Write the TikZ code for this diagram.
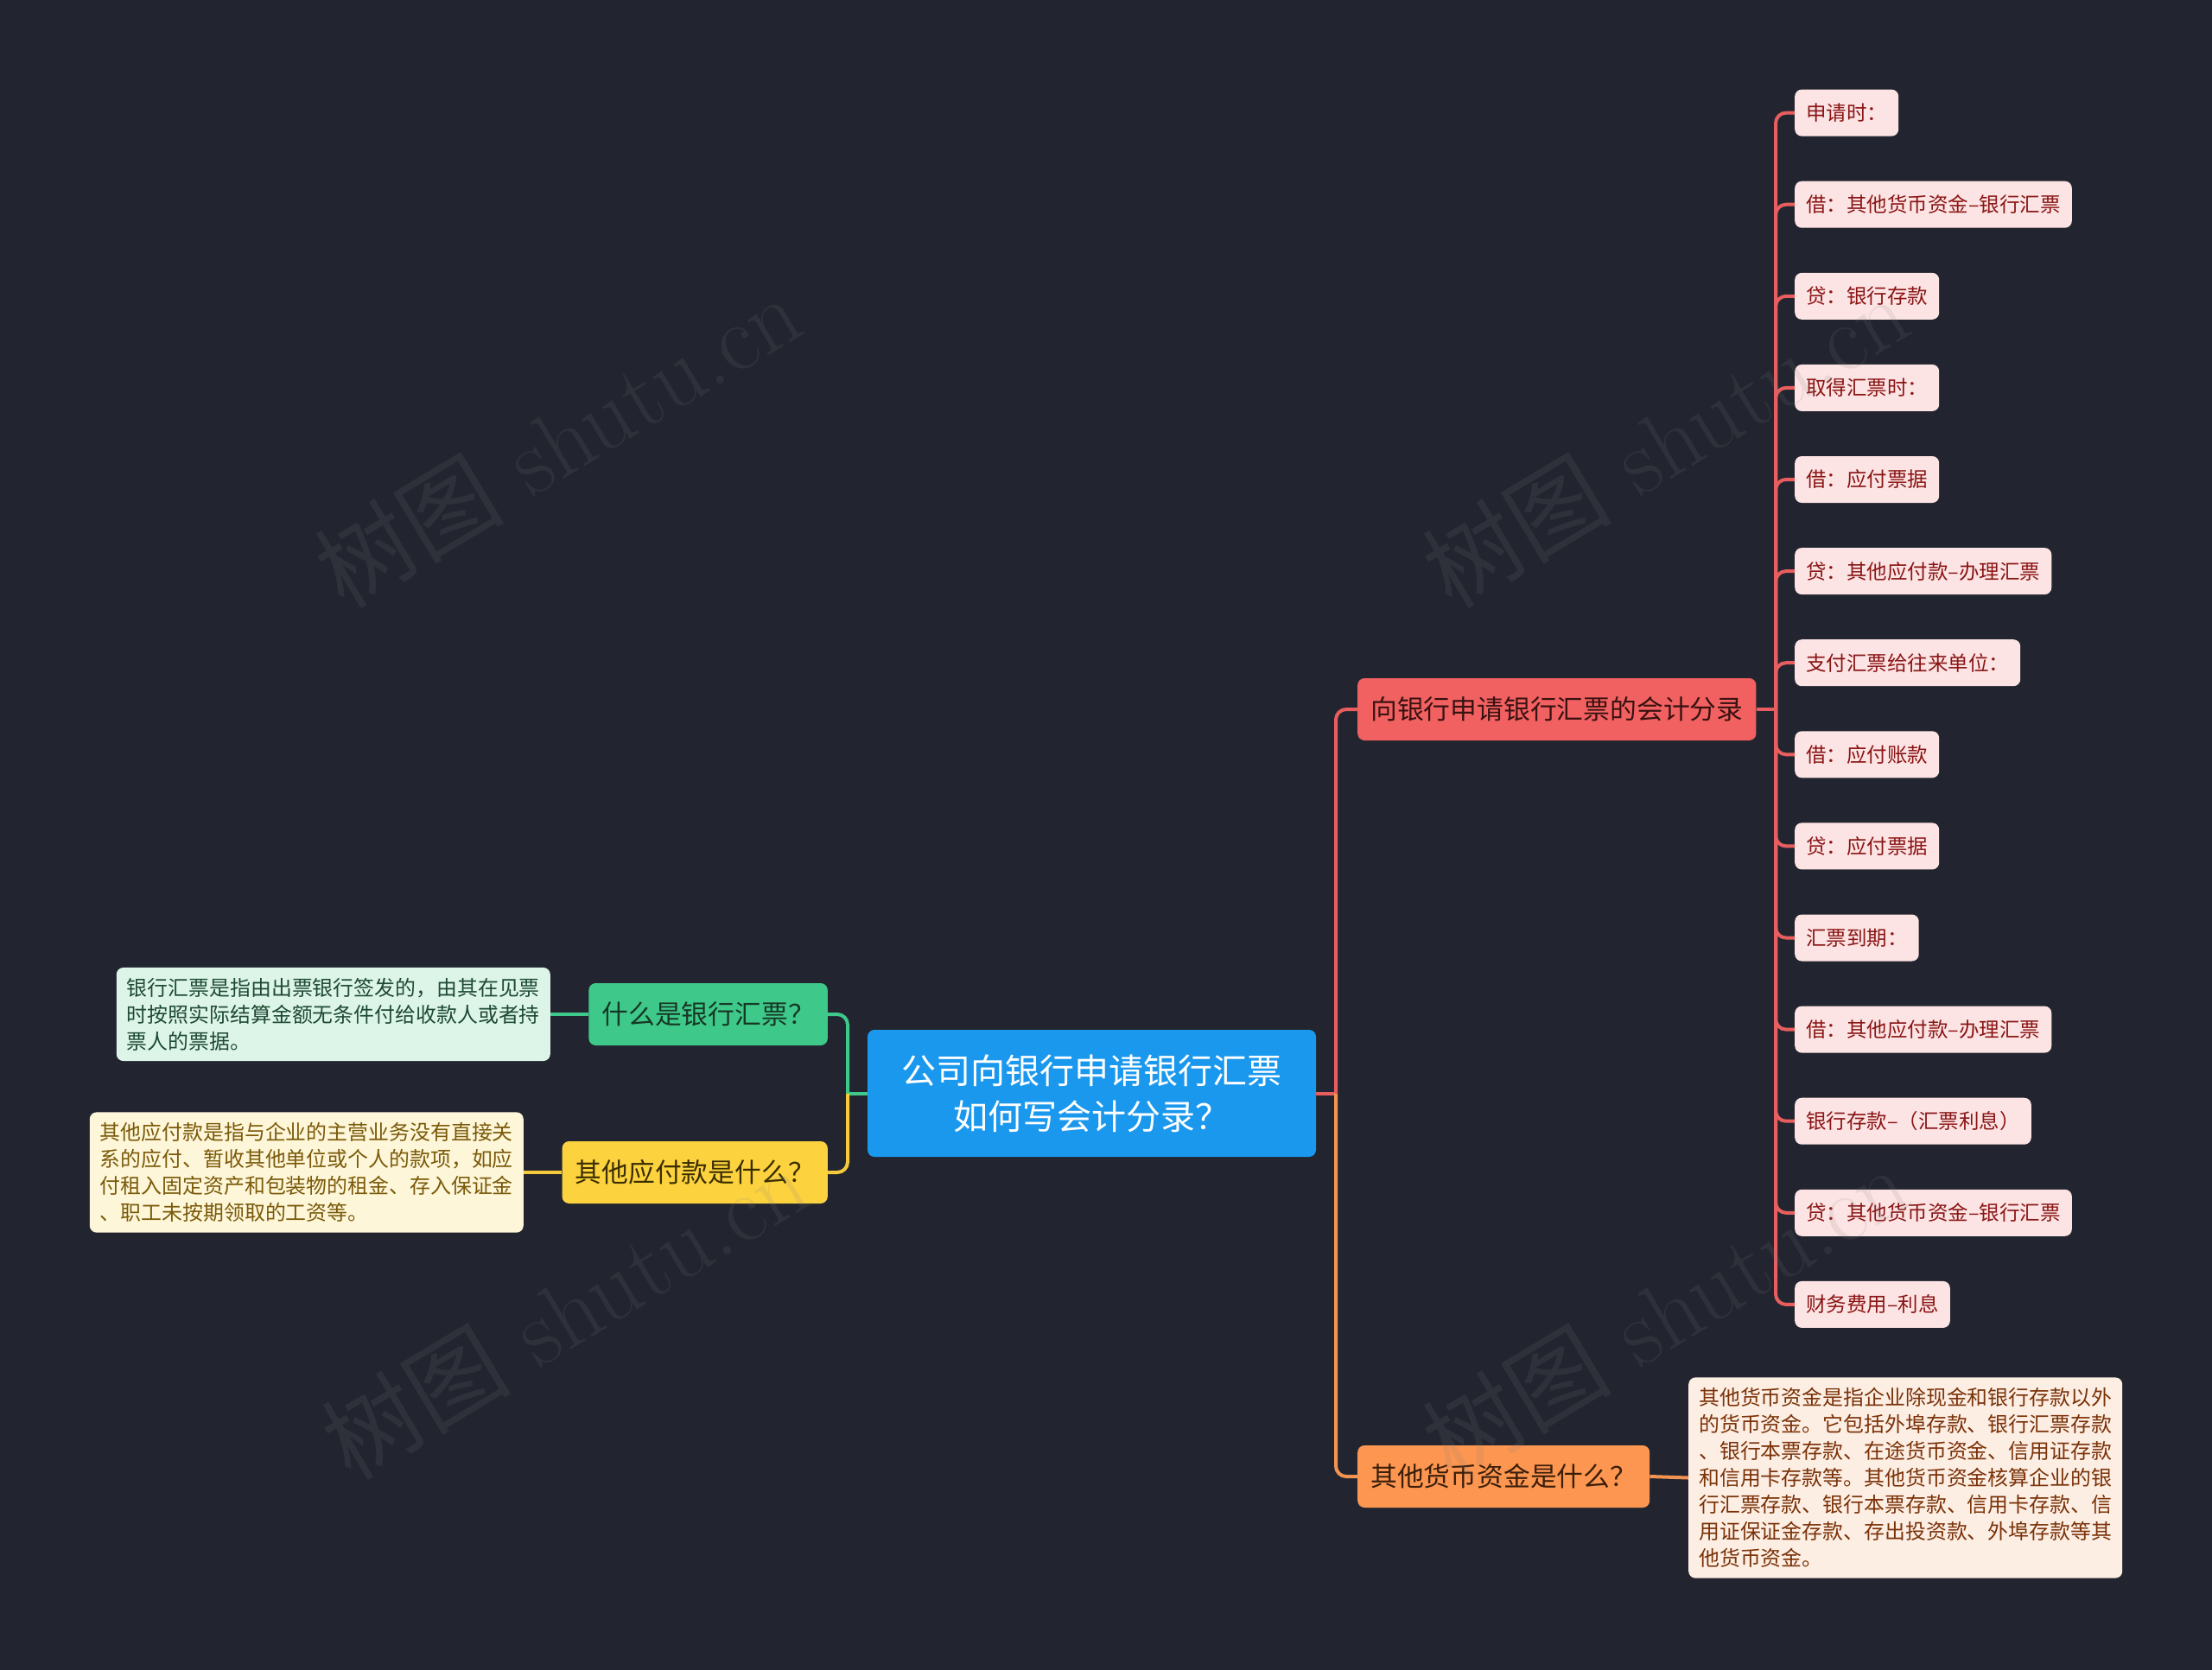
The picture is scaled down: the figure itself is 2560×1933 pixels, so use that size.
\documentclass[tikz,border=0pt]{standalone}
\usepackage{fontspec}
\newfontfamily\cjk{Noto Sans CJK SC}
\definecolor{bg}{HTML}{22252F}
\definecolor{wm}{HTML}{808080}
\definecolor{rootfill}{HTML}{1A98EE}
\definecolor{redfill}{HTML}{F26161}
\definecolor{redtext}{HTML}{3A1212}
\definecolor{redline}{HTML}{E85E5E}
\definecolor{rleaffill}{HTML}{FDE4E4}
\definecolor{rleaftext}{HTML}{8A1515}
\definecolor{orfill}{HTML}{FD9650}
\definecolor{ortext}{HTML}{3A1E0A}
\definecolor{orline}{HTML}{F39352}
\definecolor{oleaffill}{HTML}{FDEEE4}
\definecolor{oleaftext}{HTML}{7A3208}
\definecolor{grfill}{HTML}{3EC98A}
\definecolor{grtext}{HTML}{173826}
\definecolor{grline}{HTML}{3EC98A}
\definecolor{gleaffill}{HTML}{DDF5E8}
\definecolor{gleaftext}{HTML}{1E4A33}
\definecolor{yefill}{HTML}{FDD23F}
\definecolor{yetext}{HTML}{3A2E00}
\definecolor{yeline}{HTML}{F5C93A}
\definecolor{yleaffill}{HTML}{FEF6D8}
\definecolor{yleaftext}{HTML}{7A5A0A}
\tikzset{
  box/.style={rounded corners=8pt, inner sep=0pt},
  rootbox/.style={box, fill=rootfill, text=white, font=\cjk\fontsize{40}{53}\selectfont,
    minimum width=519pt, minimum height=147pt, align=center},
  branch/.style={box, font=\cjk\fontsize{30.8}{36}\selectfont, minimum height=72pt, inner xsep=15pt},
  rleaf/.style={box, fill=rleaffill, text=rleaftext, font=\cjk\fontsize{23.5}{28}\selectfont,
    minimum height=54pt, inner xsep=13pt, anchor=west},
  para/.style={box, font=\cjk\fontsize{23.9}{31}\selectfont, align=left, inner xsep=12pt, inner ysep=12pt},
  conn/.style={line width=4pt, rounded corners=12pt},
  wmark/.style={text=wm, text opacity=0.14, rotate=31, font=\fontsize{110}{120}\selectfont}
}
\begin{document}
\begin{tikzpicture}[x=1pt,y=-1pt]
\fill[bg] (0,0) rectangle (2560,1933);
\useasboundingbox (0,0) rectangle (2560,1933);
% nodes
\node[rootbox] (root) at (1263.5,1265.5) {公司向银行申请银行汇票\\如何写会计分录？};
\node[branch, fill=redfill, text=redtext, anchor=west] (b1) at (1571,821) {向银行申请银行汇票的会计分录};
\node[branch, fill=orfill, text=ortext, anchor=west] (b2) at (1571,1709) {其他货币资金是什么？};
\node[branch, fill=grfill, text=grtext, anchor=east] (b3) at (958,1174) {什么是银行汇票？};
\node[branch, fill=yefill, text=yetext, anchor=east] (b4) at (958,1357) {其他应付款是什么？};
\node[para, fill=gleaffill, text=gleaftext, anchor=east] (g1) at (637,1174)
  {银行汇票是指由出票银行签发的，由其在见票\\时按照实际结算金额无条件付给收款人或者持\\票人的票据。};
\node[para, fill=yleaffill, text=yleaftext, anchor=east] (y1) at (606,1357)
  {其他应付款是指与企业的主营业务没有直接关\\系的应付、暂收其他单位或个人的款项，如应\\付租入固定资产和包装物的租金、存入保证金\\、职工未按期领取的工资等。};
\node[para, fill=oleaffill, text=oleaftext, anchor=west] (o1) at (1954,1710.5)
  {其他货币资金是指企业除现金和银行存款以外\\的货币资金。它包括外埠存款、银行汇票存款\\、银行本票存款、在途货币资金、信用证存款\\和信用卡存款等。其他货币资金核算企业的银\\行汇票存款、银行本票存款、信用卡存款、信\\用证保证金存款、存出投资款、外埠存款等其\\他货币资金。};
\node[rleaf] (r1) at (2077,130.6) {申请时：};
\node[rleaf] (r2) at (2077,236.7) {借：其他货币资金–银行汇票};
\node[rleaf] (r3) at (2077,342.8) {贷：银行存款};
\node[rleaf] (r4) at (2077,448.9) {取得汇票时：};
\node[rleaf] (r5) at (2077,555.0) {借：应付票据};
\node[rleaf] (r6) at (2077,661.1) {贷：其他应付款–办理汇票};
\node[rleaf] (r7) at (2077,767.2) {支付汇票给往来单位：};
\node[rleaf] (r8) at (2077,873.3) {借：应付账款};
\node[rleaf] (r9) at (2077,979.4) {贷：应付票据};
\node[rleaf] (r10) at (2077,1085.5) {汇票到期：};
\node[rleaf] (r11) at (2077,1191.6) {借：其他应付款–办理汇票};
\node[rleaf] (r12) at (2077,1297.7) {银行存款–（汇票利息）};
\node[rleaf] (r13) at (2077,1403.8) {贷：其他货币资金–银行汇票};
\node[rleaf] (r14) at (2077,1509.9) {财务费用–利息};
% junctions
\coordinate (jr) at (1546,1265.5);
\coordinate (jl) at (981,1265.5);
\coordinate (jb1) at (2055,821);
% connectors
\draw[conn, redline] (root.east) -- (jr);
\draw[conn, redline] (jr) |- (b1.west);
\draw[conn, orline] (jr) |- (b2.west);
\draw[conn, grline] (root.west) -- (jl);
\draw[conn, grline] (jl) |- (b3.east);
\draw[conn, yeline] (jl) |- (b4.east);
\draw[conn, grline] (b3.west) -- (g1.east);
\draw[conn, yeline] (b4.west) -- (y1.east);
\draw[conn, orline] (b2.east) -- (o1.west);
\draw[conn, redline] (b1.east) -- (jb1);
\foreach \i in {1,...,14} { \draw[conn, redline] (jb1) |- (r\i.west); }
% watermarks (drawn on top, faint)
\node[wmark] (w1) at (645,510) {{\cjk 树图} shutu.cn};
\node[wmark] (w2) at (1927,510) {{\cjk 树图} shutu.cn};
\node[wmark] (w3) at (653,1518) {{\cjk 树图} shutu.cn};
\node[wmark] (w4) at (1927,1518) {{\cjk 树图} shutu.cn};
\end{tikzpicture}
\end{document}
